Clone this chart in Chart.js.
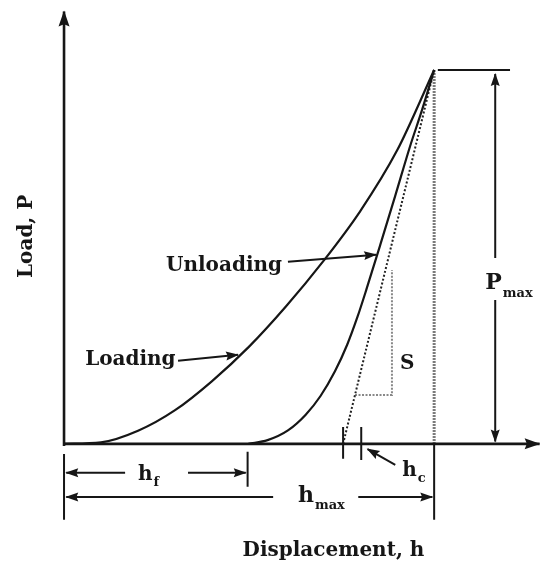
<!DOCTYPE html>
<html>
<head>
<meta charset="utf-8">
<script src="https://cdn.jsdelivr.net/npm/chart.js@4/dist/chart.umd.min.js"></script>
<style>
  html, body { margin: 0; padding: 0; background: #fff; }
  canvas { display: block; }
</style>
</head>
<body>
<canvas id="chart" width="540" height="571"></canvas>
<script>
// Load-displacement record of an indentation test, schematic units (h, P)
const loadingH = [0, 10, 20, 30, 40, 50, 60, 70, 80, 90, 100];
const loadingP = [0, 0.4, 3.5, 9, 16.8, 26, 36.8, 48.8, 62.2, 78.5, 100];

const unloadingH = [49.8, 55, 60.5, 65.3, 69.3, 73.2, 76.5, 79.3, 81.7, 85.5, 89.5, 93.5, 96.8, 100];
const unloadingP = [0, 1, 3.6, 7.8, 12.8, 19.4, 26.5, 34, 41.3, 53.4, 66.4, 79.6, 89.5, 100];

const H_MAX = 100;
const P_MAX = 100;
const H_F = 49.6;
const H_TANGENT = 75.4;          // unloading tangent hits the axis here
const H_C = 80.3;
const S_LOW = 13.1, S_HIGH = 46.5; // load span of the stiffness triangle

const INK = '#161616';
const FONT = '"DejaVu Serif", "Liberation Serif", serif';

const toPoints = (hs, ps) => hs.map((h, i) => ({ x: h, y: ps[i] }));
const seg = (x1, y1, x2, y2) => [{ x: x1, y: y1 }, { x: x2, y: y2 }];

function line(data, opts) {
  return Object.assign({
    data,
    showLine: true,
    pointRadius: 0,
    borderColor: INK,
    borderWidth: 2,
    fill: false
  }, opts || {});
}

const small = { length: 12, width: 9 };
const big = { length: 15, width: 11 };

// tangent line point at a given load
const tangentH = p => H_TANGENT + (H_MAX - H_TANGENT) * p / P_MAX;

const datasets = [
  // axes
  line(seg(0, -0.6, 0, 115.6), { borderWidth: 2.6, arrow: big }),
  line(seg(0, 0, 128.5, 0), { borderWidth: 2.6, arrow: big }),

  // curves
  line(toPoints(loadingH, loadingP), { cubicInterpolationMode: 'monotone', borderWidth: 2.2 }),
  line(toPoints(unloadingH, unloadingP), { cubicInterpolationMode: 'monotone', borderWidth: 2.2 }),

  // unloading tangent and stiffness triangle
  line(seg(H_TANGENT, 0, H_MAX, P_MAX), { borderDash: [2, 2], borderColor: '#222' }),
  line([{ x: tangentH(S_LOW), y: S_LOW }, { x: 88.6, y: S_LOW }, { x: 88.6, y: S_HIGH }],
       { borderDash: [2, 1.5], borderColor: '#888', borderWidth: 2 }),

  // h max guide
  line(seg(H_MAX, 0, H_MAX, P_MAX), { borderDash: [1.5, 1.5], borderColor: '#505050', borderWidth: 3 }),
  line(seg(H_MAX, 0, H_MAX, -20.3)),

  // P max marker
  line(seg(101, P_MAX, 120.5, P_MAX)),
  line(seg(116.5, 49.7, 116.5, 98.9), { arrow: small }),
  line(seg(116.5, 38.5, 116.5, 0.6), { arrow: small }),

  // depth dimensions below the axis
  line(seg(0, -2.7, 0, -20.3)),
  line(seg(H_F, -2.1, H_F, -11.5)),
  line(seg(16.5, -7.75, 0.6, -7.75), { arrow: small }),
  line(seg(33.5, -7.75, H_F - 0.5, -7.75), { arrow: small }),
  line(seg(56.5, -14.2, 0.6, -14.2), { arrow: small }),
  line(seg(79.5, -14.2, H_MAX - 0.5, -14.2), { arrow: small }),

  // h c ticks and pointer
  line(seg(H_TANGENT, 4.5, H_TANGENT, -4)),
  line(seg(H_C, 4.5, H_C, -4.3)),
  line(seg(89.5, -5.6, 82, -1.4), { arrow: small }),

  // curve pointers
  line(seg(60.5, 48.7, 84.3, 50.6), { arrow: small }),
  line(seg(30.8, 22.2, 47, 23.8), { arrow: small })
];

const arrowHeads = {
  id: 'arrowHeads',
  afterDatasetsDraw(chart) {
    const ctx = chart.ctx;
    chart.data.datasets.forEach((ds, i) => {
      if (!ds.arrow) return;
      const pts = chart.getDatasetMeta(i).data;
      const a = pts[pts.length - 2];
      const b = pts[pts.length - 1];
      const ang = Math.atan2(b.y - a.y, b.x - a.x);
      const len = ds.arrow.length;
      const half = ds.arrow.width / 2;
      ctx.save();
      ctx.translate(b.x, b.y);
      ctx.rotate(ang);
      ctx.beginPath();
      ctx.moveTo(1, 0);
      ctx.lineTo(-len, -half);
      ctx.lineTo(-len * 0.85, 0);
      ctx.lineTo(-len, half);
      ctx.closePath();
      ctx.fillStyle = ds.borderColor;
      ctx.fill();
      ctx.restore();
    });
  }
};

const labels = {
  id: 'labels',
  afterDraw(chart) {
    const { ctx, scales: { x, y } } = chart;
    const px = v => x.getPixelForValue(v);
    const py = v => y.getPixelForValue(v);
    const font = s => `bold ${s}px ${FONT}`;

    ctx.save();
    ctx.fillStyle = INK;
    ctx.textBaseline = 'alphabetic';

    function text(str, h, p, size, align) {
      ctx.font = font(size);
      ctx.textAlign = align || 'left';
      ctx.fillText(str, px(h), py(p));
    }

    function withSub(main, sub, h, p, size, subSize, drop) {
      ctx.font = font(size);
      ctx.textAlign = 'left';
      const x0 = px(h), y0 = py(p);
      ctx.fillText(main, x0, y0);
      const w = ctx.measureText(main).width;
      ctx.font = font(subSize);
      ctx.fillText(sub, x0 + w + 1, y0 + drop);
    }

    // y axis title, rotated
    ctx.save();
    ctx.translate(px(-10), py(55.5));
    ctx.rotate(-Math.PI / 2);
    ctx.font = font(20);
    ctx.textAlign = 'center';
    ctx.textBaseline = 'middle';
    ctx.fillText('Load, P', 0, 0);
    ctx.restore();

    text('Unloading', 58.9, 46.2, 20, 'right');
    text('Loading', 5.7, 21.1, 20);
    text('S', 90.8, 20, 20);
    text('Displacement, h', 72.8, -30, 20, 'center');

    withSub('P', 'max', 113.8, 41.4, 22, 13, 8);
    withSub('h', 'f', 20, -9.6, 20, 13, 6);
    withSub('h', 'max', 63.2, -15.5, 22, 13, 7);
    withSub('h', 'c', 91.4, -8.6, 20, 13, 6);

    ctx.restore();
  }
};

new Chart(document.getElementById('chart'), {
  type: 'scatter',
  data: { datasets },
  options: {
    responsive: false,
    animation: false,
    layout: { padding: 0 },
    plugins: {
      legend: { display: false },
      tooltip: { enabled: false }
    },
    scales: {
      x: { type: 'linear', min: -17.3, max: 128.6, display: false },
      y: { type: 'linear', min: -34, max: 118.7, display: false }
    }
  },
  plugins: [arrowHeads, labels]
});
</script>
</body>
</html>
